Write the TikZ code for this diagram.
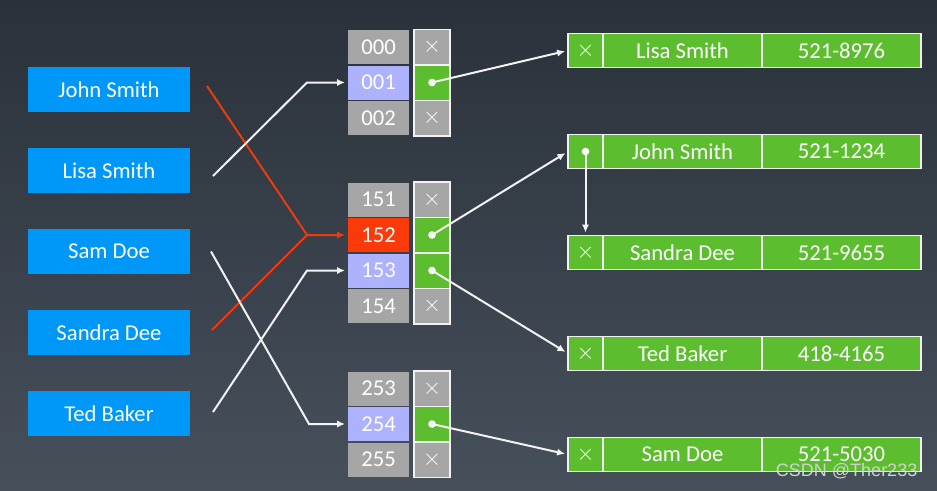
\documentclass[tikz,border=0pt]{standalone}
\usepackage{fontspec}
\setmainfont{Carlito}
\newfontfamily\wmfont{Liberation Sans}
\usetikzlibrary{arrows.meta,positioning,calc}
\definecolor{bgtop}{HTML}{2A313A}
\definecolor{bgbot}{HTML}{46505B}
\definecolor{keyblue}{HTML}{0098F8}
\definecolor{cellgray}{HTML}{A6A6A6}
\definecolor{hitblue}{HTML}{ADB2FF}
\definecolor{clash}{HTML}{FA3A0A}
\definecolor{leaf}{HTML}{5CBE2F}
\definecolor{wire}{HTML}{F2F2F2}
\definecolor{redwire}{HTML}{EE3A10}
\newdimen\px \px=0.75pt
\tikzset{
  keybox/.style ={fill=keyblue,text=white,minimum width=162\px,minimum height=45\px,
                  inner sep=0pt,outer sep=0pt,font=\fontsize{17}{20}\selectfont},
  idx/.style    ={text=white,minimum width=61\px,minimum height=34\px,inner sep=0pt,
                  outer sep=0pt,font=\fontsize{17}{20}\selectfont},
  slot/.style   ={draw=wire,line width=1.5\px,minimum width=36\px,minimum height=35.5\px,
                  inner sep=0pt,outer sep=0pt},
  nil/.style    ={label={[text=white,inner sep=0pt,font=\fontsize{17}{17}\selectfont]center:$\times$}},
  ptr/.style    ={path picture={\fill[white] (path picture bounding box.center) circle (3.8\px);}},
  bnil/.style   ={slot,fill=cellgray,nil},
  bptr/.style   ={slot,fill=leaf,ptr},
  rnil/.style   ={slot,fill=leaf,nil,minimum width=35\px,minimum height=34\px},
  rptr/.style   ={slot,fill=leaf,ptr,minimum width=35\px,minimum height=34\px},
  reccell/.style={draw=wire,line width=1.5\px,fill=leaf,text=white,minimum width=159\px,
                  minimum height=34\px,inner sep=0pt,outer sep=0pt,
                  font=\fontsize{17}{20}\selectfont},
  wireto/.style ={-{Latex[length=6pt,width=5.5pt]},line width=1.5pt,draw=wire,shorten >=3\px},
  clashwire/.style={line width=1.5pt,draw=redwire}
}
\begin{document}
\begin{tikzpicture}[x=0.75pt,y=-0.75pt]
  \shade[top color=bgtop,bottom color=bgbot] (0,0) rectangle (937,490);
  % keys
  \foreach \n/\txt [count=\i from 0] in {john/John Smith,lisa/Lisa Smith,sam/Sam Doe,
      sandra/Sandra Dee,ted/Ted Baker}
    \node[keybox] (\n) at (109,89.5+81*\i) {\txt};
  % buckets
  \foreach \k/\c/\s [count=\i from 0] in {000/cellgray/bnil,001/hitblue/bptr,002/cellgray/bnil}{
    \node[idx,fill=\c] (b\k) at (378.5,47+35.5*\i) {\k};
    \node[\s,right=5\px of b\k] (p\k) {};
  }
  \foreach \k/\c/\s [count=\i from 0] in {151/cellgray/bnil,152/clash/bptr,153/hitblue/bptr,
      154/cellgray/bnil}{
    \node[idx,fill=\c] (b\k) at (378.5,199.5+35.5*\i) {\k};
    \node[\s,right=5\px of b\k] (p\k) {};
  }
  \foreach \k/\c/\s [count=\i from 0] in {253/cellgray/bnil,254/hitblue/bptr,255/cellgray/bnil}{
    \node[idx,fill=\c] (b\k) at (378.5,388.5+35.5*\i) {\k};
    \node[\s,right=5\px of b\k] (p\k) {};
  }
  % records
  \foreach \n/\txt/\phone/\s [count=\i from 0] in {lisa/Lisa Smith/521-8976/rnil,
      john/John Smith/521-1234/rptr,sandra/Sandra Dee/521-9655/rnil,
      ted/Ted Baker/418-4165/rnil,sam/Sam Doe/521-5030/rnil}{
    \node[\s] (nxt-\n) at (585.5,50.5+101*\i) {};
    \node[reccell,right=0pt of nxt-\n] (rec-\n) {\txt};
    \node[reccell,right=0pt of rec-\n] (tel-\n) {\phone};
  }
  % hashing
  \coordinate (in001) at ([xshift=-41\px]b001.west);
  \coordinate (in152) at ([xshift=-41\px]b152.west);
  \coordinate (in153) at ([xshift=-41\px]b153.west);
  \coordinate (in254) at ([xshift=-39\px]b254.west);
  \draw[wireto,draw=redwire] ([xshift=17\px,yshift=3.5\px]john.east) -- (in152) -- (b152.west);
  \draw[clashwire] ([xshift=22\px,yshift=2.5\px]sandra.east) -- (in152);
  \draw[wireto] ([xshift=23\px,yshift=-5.5\px]lisa.east) -- (in001) -- (b001.west);
  \draw[wireto] ([xshift=21\px]sam.east) -- (in254) -- (b254.west);
  \draw[wireto] ([xshift=23\px,yshift=1.5\px]ted.east) -- (in153) -- (b153.west);
  % chains
  \draw[wireto] (p001.center) -- (nxt-lisa.west);
  \draw[wireto] (p152.center) -- (nxt-john.west);
  \draw[wireto] (p153.center) -- (nxt-ted.west);
  \draw[wireto] (p254.center) -- (nxt-sam.west);
  \draw[wireto] (nxt-john.center) -- (nxt-sandra.north);
  \node[font=\wmfont\fontsize{13.5}{14}\selectfont,text=white!82!black,anchor=east]
    (mark) at (922,471) {CSDN @Ther233};
\end{tikzpicture}
\end{document}
